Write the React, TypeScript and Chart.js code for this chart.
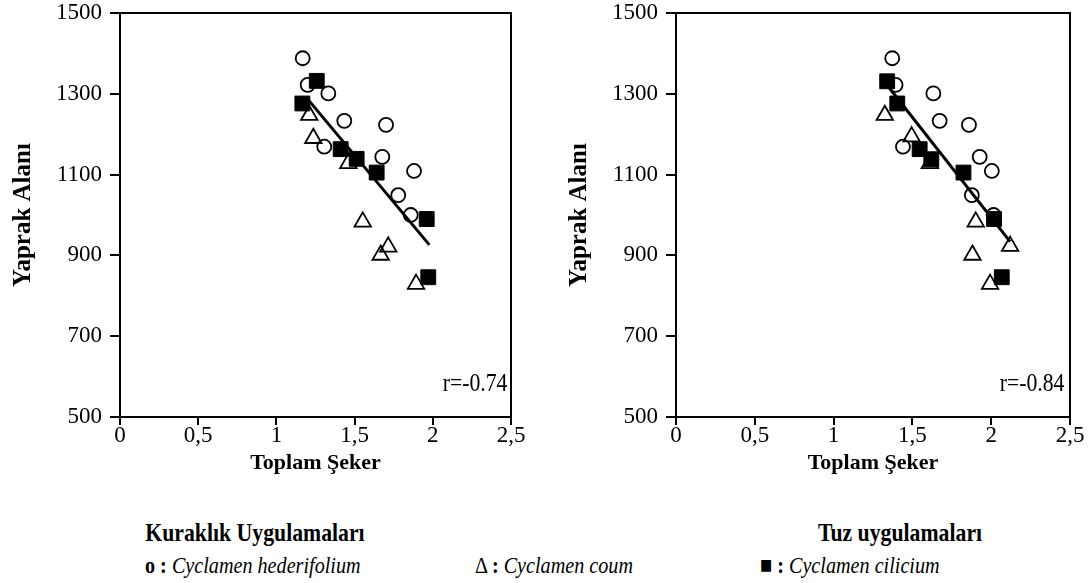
import React, { useEffect, useRef } from "react";
import { Chart, registerables } from "chart.js";

Chart.register(...registerables);

const FONT = "'Liberation Serif', 'Times New Roman', serif";

// Kuraklık (drought) panel
const droughtHederifoliumX = [1.168, 1.2, 1.332, 1.434, 1.701, 1.306, 1.677, 1.88, 1.779, 1.859];
const droughtHederifoliumY = [1388, 1322, 1301, 1233, 1223, 1169, 1144, 1109, 1049, 1000];
const droughtCoumX = [1.21, 1.236, 1.46, 1.552, 1.715, 1.667, 1.893];
const droughtCoumY = [1247, 1190, 1128, 983, 921, 901, 829];
const droughtCiliciumX = [1.258, 1.166, 1.411, 1.513, 1.641, 1.961, 1.971];
const droughtCiliciumY = [1332, 1276, 1163, 1139, 1105, 990, 846];
const droughtTrendX = [1.204, 1.978];
const droughtTrendY = [1285, 926];
const droughtR = "r=-0.74";

// Tuz (salt) panel
const saltHederifoliumX = [1.372, 1.393, 1.633, 1.673, 1.859, 1.44, 1.927, 2.004, 1.877, 2.015];
const saltHederifoliumY = [1388, 1322, 1301, 1233, 1223, 1169, 1144, 1109, 1049, 1000];
const saltCoumX = [1.325, 1.495, 1.611, 1.902, 2.12, 1.881, 1.993];
const saltCoumY = [1247, 1194, 1128, 983, 923, 901, 829];
const saltCiliciumX = [1.34, 1.404, 1.546, 1.62, 1.824, 2.018, 2.067];
const saltCiliciumY = [1331, 1276, 1163, 1138, 1105, 990, 846];
const saltTrendX = [1.33, 2.12];
const saltTrendY = [1326, 934];
const saltR = "r=-0.84";

const xTicks = [0, 0.5, 1, 1.5, 2, 2.5];
const xTickLabels = ["0", "0,5", "1", "1,5", "2", "2,5"];
const yTicks = [500, 700, 900, 1100, 1300, 1500];

const xTitle = "Toplam Şeker";
const yTitle = "Yaprak Alanı";

const pts = (xs: number[], ys: number[]) => xs.map((x, i) => ({ x, y: ys[i] }));

const boxPlugin = {
  id: "box",
  afterDraw(chart: any) {
    const { ctx, chartArea } = chart;
    ctx.save();
    ctx.strokeStyle = "#000";
    ctx.lineWidth = 2;
    ctx.strokeRect(chartArea.left, chartArea.top, chartArea.right - chartArea.left, chartArea.bottom - chartArea.top);
    ctx.restore();
  },
};

function Panel(props: {
  hx: number[]; hy: number[]; cx: number[]; cy: number[]; sx: number[]; sy: number[];
  tx: number[]; ty: number[]; rightPad: number;
}) {
  const ref = useRef<HTMLCanvasElement>(null);
  useEffect(() => {
    if (!ref.current) return;
    const tickFont = { family: FONT, size: 23 };
    const chart = new Chart(ref.current, {
      type: "scatter",
      data: {
        datasets: [
          {
            type: "line",
            data: pts(props.tx, props.ty),
            borderColor: "#000",
            borderWidth: 3,
            pointRadius: 0,
            showLine: true,
            order: 0,
          } as any,
          {
            data: pts(props.sx, props.sy),
            pointStyle: "rect",
            pointRadius: 10.5,
            backgroundColor: "#000",
            borderColor: "#000",
            borderWidth: 1,
            order: 1,
          },
          {
            data: pts(props.hx, props.hy),
            pointStyle: "circle",
            pointRadius: 7,
            backgroundColor: "rgba(255,255,255,0)",
            borderColor: "#000",
            borderWidth: 1.8,
            order: 2,
          },
          {
            data: pts(props.cx, props.cy),
            pointStyle: "triangle",
            pointRadius: 9.5,
            backgroundColor: "rgba(255,255,255,0)",
            borderColor: "#000",
            borderWidth: 1.8,
            order: 3,
          },
        ],
      },
      options: {
        animation: false,
        responsive: false,
        maintainAspectRatio: false,
        layout: { padding: { left: 0, top: 13, right: props.rightPad, bottom: 0 } },
        plugins: { legend: { display: false }, tooltip: { enabled: false } },
        scales: {
          x: {
            type: "linear",
            min: 0,
            max: 2.5,
            afterFit: (a: any) => { a.height = 63; a.paddingLeft = 0; a.paddingRight = 0; },
            afterBuildTicks: (a: any) => { a.ticks = xTicks.map((v) => ({ value: v })); },
            ticks: {
              color: "#000",
              font: tickFont,
              padding: -3,
              maxRotation: 0,
              callback: (v: any) => xTickLabels[xTicks.indexOf(Number(v))] ?? "",
            },
            grid: { drawOnChartArea: false, drawTicks: true, tickLength: 8, color: "#000", lineWidth: 2 },
            border: { color: "#000", width: 2 },
            title: { display: true, text: xTitle, color: "#000", font: { family: FONT, size: 22, weight: "bold" }, padding: { top: 0, bottom: 3 } },
          },
          y: {
            type: "linear",
            min: 500,
            max: 1500,
            afterFit: (a: any) => { a.width = 120; a.paddingTop = 0; a.paddingBottom = 0; },
            afterBuildTicks: (a: any) => { a.ticks = yTicks.map((v) => ({ value: v })); },
            ticks: { color: "#000", font: tickFont, padding: 8, callback: (v: any) => String(v) },
            grid: { drawOnChartArea: false, drawTicks: true, tickLength: 10, color: "#000", lineWidth: 2 },
            border: { color: "#000", width: 2 },
            title: { display: true, text: yTitle, color: "#000", font: { family: FONT, size: 25, weight: "bold" }, padding: { top: 9, bottom: 0 } },
          },
        },
      },
      plugins: [boxPlugin],
    });
    return () => chart.destroy();
  }, []);
  return <canvas ref={ref} width={545} height={480} style={{ width: 545, height: 480, display: "block" }} />;
}

const condensed = (origin: string, size: number, sx: number): React.CSSProperties => ({
  position: "absolute",
  fontFamily: FONT,
  fontSize: size,
  lineHeight: "28px",
  color: "#000",
  whiteSpace: "nowrap",
  transform: `scaleX(${sx})`,
  transformOrigin: origin,
});

export default function App() {
  return (
    <div style={{ position: "absolute", left: 0, top: 0, width: 1091, height: 583, background: "#fff", fontFamily: FONT, color: "#000" }}>
      <div style={{ position: "absolute", left: 0, top: 0 }}>
        <Panel hx={droughtHederifoliumX} hy={droughtHederifoliumY} cx={droughtCoumX} cy={droughtCoumY}
          sx={droughtCiliciumX} sy={droughtCiliciumY} tx={droughtTrendX} ty={droughtTrendY} rightPad={34} />
      </div>
      <div style={{ position: "absolute", left: 556, top: 0 }}>
        <Panel hx={saltHederifoliumX} hy={saltHederifoliumY} cx={saltCoumX} cy={saltCoumY}
          sx={saltCiliciumX} sy={saltCiliciumY} tx={saltTrendX} ty={saltTrendY} rightPad={31} />
      </div>
      <div style={{ ...condensed("right center", 25, 0.87), right: 1091 - 507, top: 369, textAlign: "right" }}>{droughtR}</div>
      <div style={{ ...condensed("right center", 25, 0.87), right: 1091 - 1064, top: 369, textAlign: "right" }}>{saltR}</div>
      <div style={{ ...condensed("center center", 25, 0.87), left: 55, width: 400, top: 519, textAlign: "center", fontWeight: "bold" }}>Kuraklık Uygulamaları</div>
      <div style={{ ...condensed("center center", 25, 0.87), left: 700, width: 400, top: 519, textAlign: "center", fontWeight: "bold" }}>Tuz uygulamaları</div>
      <div style={{ ...condensed("left center", 24, 0.84), left: 145, top: 551 }}>
        <b>o :</b> <i>Cyclamen hederifolium</i>
      </div>
      <div style={{ ...condensed("left center", 24, 0.84), left: 475, top: 551 }}>
        Δ <b>:</b> <i>Cyclamen coum</i>
      </div>
      <div style={{ ...condensed("left center", 24, 0.84), left: 760, top: 551 }}>
        ■ <b>:</b> <i>Cyclamen cilicium</i>
      </div>
    </div>
  );
}
